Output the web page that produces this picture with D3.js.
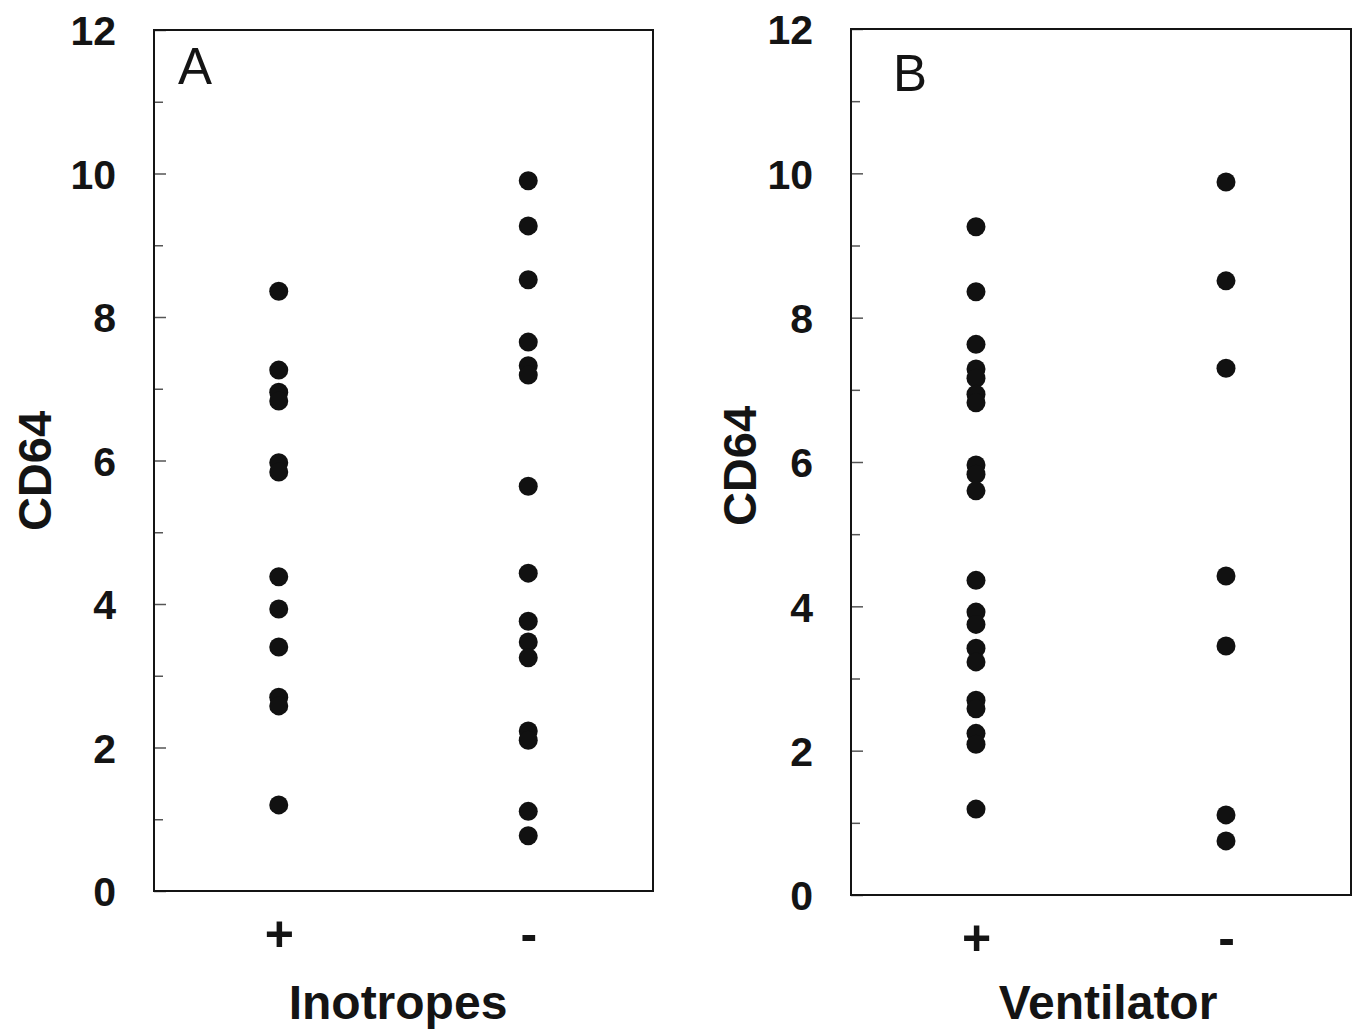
<!DOCTYPE html>
<html>
<head>
<meta charset="utf-8">
<script src="https://cdn.jsdelivr.net/npm/d3@7"></script>
<style>
  html, body { margin: 0; padding: 0; background: #fff; }
  svg { display: block; }
  text { font-family: "Liberation Sans", Arial, sans-serif; fill: #141414; }
</style>
</head>
<body>
<svg id="chart" width="1357" height="1032"></svg>
<script>
// ---- data ----
const groups = ["+", "-"];
const yTicks = [0, 2, 4, 6, 8, 10, 12];
const yMinorTicks = [1, 3, 5, 7, 9, 11];

const inotropesPlus  = [8.36, 7.26, 6.95, 6.83, 5.97, 5.84, 4.38, 3.93, 3.40, 2.70, 2.58, 1.20];
const inotropesMinus = [9.90, 9.27, 8.52, 7.65, 7.32, 7.19, 5.64, 4.43, 3.76, 3.47, 3.25, 2.23, 2.10, 1.11, 0.77];
const ventilatorPlus  = [9.26, 8.36, 7.63, 7.29, 7.16, 6.94, 6.82, 5.96, 5.83, 5.60, 4.36, 3.92, 3.75, 3.42, 3.23, 2.70, 2.58, 2.24, 2.09, 1.19];
const ventilatorMinus = [9.88, 8.51, 7.30, 4.42, 3.45, 1.11, 0.75];

const panelLetters = ["A", "B"];
const xTitles = ["Inotropes", "Ventilator"];
const yTitle = "CD64";

// ---- layout ----
const panels = [
  { letter: panelLetters[0], xTitle: xTitles[0], plus: inotropesPlus, minus: inotropesMinus,
    left: 154, right: 653, top: 30, bottom: 891, yTitleX: 35, yTitleY: 471, letterX: 178, letterY: 84, titleX: 398 },
  { letter: panelLetters[1], xTitle: xTitles[1], plus: ventilatorPlus, minus: ventilatorMinus,
    left: 851, right: 1351, top: 29, bottom: 895, yTitleX: 740, yTitleY: 466, letterX: 893, letterY: 91, titleX: 1108 }
];

const svg = d3.select("#chart");

panels.forEach(p => {
  const g = svg.append("g");
  const x = d3.scalePoint().domain(groups).range([p.left, p.right]).padding(0.5);
  const y = d3.scaleLinear().domain([0, 12]).range([p.bottom, p.top]);

  // minor ticks (inside)
  g.append("g")
    .attr("transform", `translate(${p.left},0)`)
    .call(d3.axisRight(y).tickValues(yMinorTicks).tickSize(9).tickFormat(""))
    .call(a => a.select(".domain").remove())
    .call(a => a.selectAll("line").attr("stroke", "#555").attr("stroke-width", 1.5));

  // major ticks (inside)
  g.append("g")
    .attr("transform", `translate(${p.left},0)`)
    .call(d3.axisRight(y).tickValues(yTicks).tickSize(12).tickFormat(""))
    .call(a => a.select(".domain").remove())
    .call(a => a.selectAll("line").attr("stroke", "#555").attr("stroke-width", 1.5));

  // y tick labels
  g.append("g")
    .attr("transform", `translate(${p.left},0)`)
    .call(d3.axisLeft(y).tickValues(yTicks).tickSize(0).tickPadding(38))
    .call(a => a.select(".domain").remove())
    .call(a => a.selectAll("text")
      .attr("font-family", '"Liberation Sans", Arial, sans-serif')
      .attr("font-size", 41).attr("font-weight", "bold").attr("fill", "#141414")
      .attr("dy", "0.36em"));

  // x tick labels
  g.append("g")
    .attr("transform", `translate(0,${p.bottom})`)
    .call(d3.axisBottom(x).tickSize(0).tickPadding(0))
    .call(a => a.select(".domain").remove())
    .call(a => a.selectAll("text")
      .attr("font-family", '"Liberation Sans", Arial, sans-serif')
      .attr("font-size", 50).attr("font-weight", "bold").attr("fill", "#141414")
      .attr("y", 42).attr("dy", "0.36em"));

  // frame
  g.append("rect")
    .attr("x", p.left).attr("y", p.top)
    .attr("width", p.right - p.left).attr("height", p.bottom - p.top)
    .attr("fill", "none").attr("stroke", "#141414").attr("stroke-width", 2);

  // points
  const pts = [].concat(
    p.plus.map(v => ({ g: groups[0], v })),
    p.minus.map(v => ({ g: groups[1], v }))
  );
  g.selectAll("circle.pt").data(pts).join("circle")
    .attr("class", "pt")
    .attr("cx", d => x(d.g)).attr("cy", d => y(d.v))
    .attr("r", 9.5).attr("fill", "#111");

  // panel letter
  g.append("text").attr("x", p.letterX).attr("y", p.letterY)
    .attr("font-size", 51).text(p.letter);

  // y title
  g.append("text")
    .attr("transform", `translate(${p.yTitleX + 16},${p.yTitleY}) rotate(-90)`)
    .attr("text-anchor", "middle").attr("font-size", 47).attr("font-weight", "bold")
    .text(yTitle);

  // x title
  g.append("text")
    .attr("x", p.titleX).attr("y", 1019)
    .attr("text-anchor", "middle").attr("font-size", 48).attr("font-weight", "bold")
    .text(p.xTitle);
});
</script>
</body>
</html>
